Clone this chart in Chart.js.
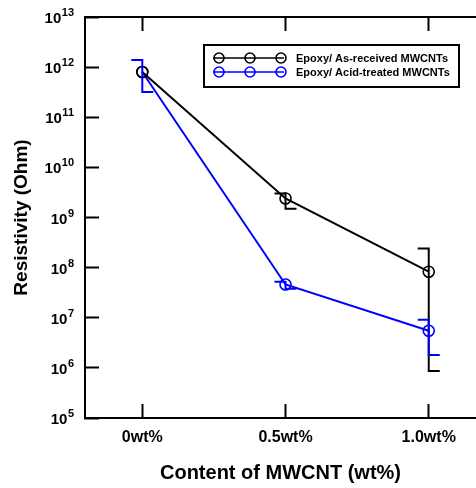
<!DOCTYPE html>
<html><head><meta charset="utf-8">
<script src="https://cdn.jsdelivr.net/npm/chart.js@4/dist/chart.umd.min.js"></script>
<style>html,body{margin:0;padding:0;background:#fff;}canvas{display:block;}</style>
</head><body>
<canvas id="c" width="476" height="488"></canvas>
<script>
const categories = ['0wt%', '0.5wt%', '1.0wt%'];
const seriesNames = ['Epoxy/ As-received MWCNTs', 'Epoxy/ Acid-treated MWCNTs'];
const asReceived = [8.0e11, 2.4e9, 8.3e7];
const asReceivedUpper = [null, 3.0e9, 2.4e8];
const asReceivedLower = [null, 1.5e9, 8.7e5];
const acidTreated = [8.0e11, 4.6e7, 5.5e6];
const acidTreatedUpper = [1.38e12, 5.2e7, 9.1e6];
const acidTreatedLower = [3.2e11, 3.8e7, 1.8e6];
const yTickExponents = [5, 6, 7, 8, 9, 10, 11, 12, 13];
const xTitle = 'Content of MWCNT (wt%)';
const yTitle = 'Resistivity (Ohm)';

const FONT = 'Liberation Sans, Arial, sans-serif';
const seriesColors = ['#000000', '#0000ff'];

const errorBarPlugin = {
  id: 'errorBars',
  afterDatasetsDraw(chart) {
    const ctx = chart.ctx, xs = chart.scales.x, ys = chart.scales.y;
    chart.data.datasets.forEach((ds, di) => {
      ctx.save();
      ctx.strokeStyle = ds.borderColor;
      ctx.lineWidth = 2;
      ds.data.forEach((p, i) => {
        const up = ds.errUpper[i], lo = ds.errLower[i];
        if (up == null || lo == null) return;
        const x = xs.getPixelForValue(p.x);
        const yU = ys.getPixelForValue(up), yL = ys.getPixelForValue(lo);
        ctx.beginPath();
        ctx.moveTo(x - 11, yU); ctx.lineTo(x, yU);
        ctx.lineTo(x, yL); ctx.lineTo(x + 11, yL);
        ctx.stroke();
      });
      ctx.restore();
    });
  }
};

const yLabelPlugin = {
  id: 'yLabels',
  afterDraw(chart) {
    const ctx = chart.ctx, ys = chart.scales.y;
    ctx.save();
    ctx.fillStyle = '#000';
    yTickExponents.forEach(e => {
      const y = ys.getPixelForValue(Math.pow(10, e));
      const right = 74;
      ctx.font = 'bold 11px ' + FONT;
      ctx.textAlign = 'right'; ctx.textBaseline = 'alphabetic';
      const exp = String(e);
      const ew = ctx.measureText(exp).width;
      ctx.fillText(exp, right, y - 1);
      ctx.font = 'bold 15px ' + FONT;
      ctx.fillText('10', right - ew - 0.5, y + 6);
    });
    ctx.restore();
  }
};

const legendPlugin = {
  id: 'boxLegend',
  afterDraw(chart) {
    const ctx = chart.ctx;
    ctx.save();
    ctx.strokeStyle = '#000'; ctx.lineWidth = 2;
    ctx.strokeRect(204, 45, 255, 42);
    chart.data.datasets.forEach((ds, i) => {
      const y = 58 + i * 14;
      ctx.strokeStyle = ds.borderColor; ctx.lineWidth = 1.6;
      ctx.beginPath(); ctx.moveTo(213, y); ctx.lineTo(284, y); ctx.stroke();
      [219, 250, 281].forEach(cx => {
        ctx.beginPath(); ctx.arc(cx, y, 5, 0, Math.PI * 2); ctx.stroke();
      });
      ctx.fillStyle = '#000';
      ctx.font = 'bold 11px ' + FONT;
      ctx.textAlign = 'left'; ctx.textBaseline = 'middle';
      ctx.fillText(ds.label, 296, y + 1);
    });
    ctx.restore();
  }
};

function makeDataset(label, values, upper, lower, color) {
  return {
    label, data: values.map((v, i) => ({ x: i, y: v })),
    errUpper: upper, errLower: lower,
    borderColor: color, backgroundColor: 'rgba(0,0,0,0)',
    borderWidth: 2, tension: 0,
    pointRadius: 5.5, pointBorderWidth: 1.6, pointBorderColor: color,
    pointBackgroundColor: 'rgba(0,0,0,0)', pointStyle: 'circle', clip: false
  };
}

const axisGrid = { drawOnChartArea: false, drawTicks: true, tickLength: -14, tickWidth: 2, color: '#000' };
const axisBorder = { display: true, width: 2, color: '#000' };
const catTicks = s => { s.ticks = categories.map((c, i) => ({ value: i })); };
const noPad = h => s => { s.height = h; s.paddingLeft = 0; s.paddingRight = 0; };

new Chart(document.getElementById('c'), {
  type: 'line',
  data: { datasets: [
    makeDataset(seriesNames[0], asReceived, asReceivedUpper, asReceivedLower, seriesColors[0]),
    makeDataset(seriesNames[1], acidTreated, acidTreatedUpper, acidTreatedLower, seriesColors[1])
  ] },
  options: {
    responsive: false, animation: false, devicePixelRatio: 1,
    layout: { padding: 0, autoPadding: false },
    plugins: { legend: { display: false }, tooltip: { enabled: false } },
    scales: {
      x: {
        type: 'linear', position: 'bottom', min: -0.4, max: 2.33,
        afterBuildTicks: catTicks,
        ticks: { callback: v => categories[v] ?? '', font: { family: FONT, size: 16, weight: 'bold' }, color: '#000', padding: 24, maxRotation: 0, autoSkip: false },
        grid: axisGrid, border: axisBorder,
        title: { display: true, text: xTitle, font: { family: FONT, size: 20, weight: 'bold' }, color: '#000', padding: { top: 0, bottom: 3 } },
        afterFit: noPad(70)
      },
      x2: {
        type: 'linear', position: 'top', min: -0.4, max: 2.33,
        afterBuildTicks: catTicks,
        ticks: { display: false },
        grid: axisGrid, border: axisBorder,
        afterFit: noPad(17)
      },
      y: {
        type: 'logarithmic', position: 'left', min: 1e5, max: 1e13,
        afterBuildTicks: s => { s.ticks = yTickExponents.map(e => ({ value: Math.pow(10, e) })); },
        ticks: { display: false },
        grid: axisGrid, border: axisBorder,
        title: { display: true, text: yTitle, font: { family: FONT, size: 19, weight: 'bold' }, color: '#000', padding: { top: 10, bottom: 0 } },
        afterFit: s => { s.width = 85; s.paddingTop = 0; s.paddingBottom = 0; }
      }
    }
  },
  plugins: [errorBarPlugin, yLabelPlugin, legendPlugin]
});
</script>
</body></html>
